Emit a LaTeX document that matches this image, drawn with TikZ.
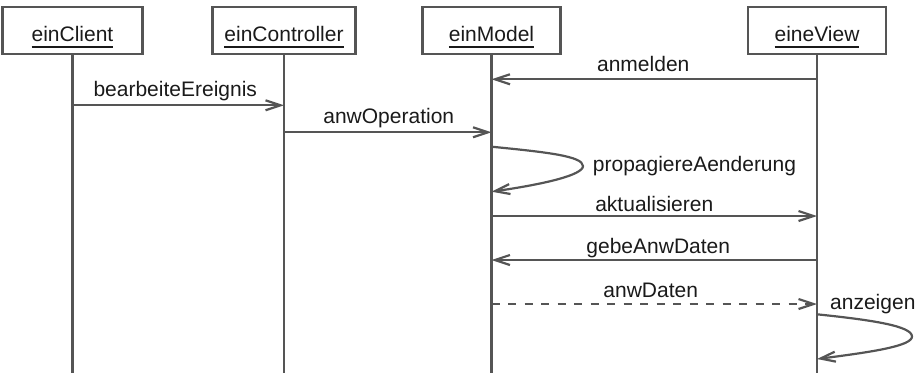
\documentclass[tikz,border=0pt]{standalone}
\usepackage{fontspec}
\setmainfont{Liberation Sans}
\usetikzlibrary{arrows.meta}
\definecolor{linegray}{HTML}{555555}
\definecolor{textgray}{HTML}{1A1A1A}
% underlined object name
\newcommand{\objname}[1]{\vtop{\hbox{#1}\kern4.2pt\hrule height 1.4pt}}
\tikzset{
  objbox/.style={draw=linegray, line width=2.2pt, minimum height=47pt, inner sep=0pt},
  objlabel/.style={anchor=base, inner sep=0pt, text=textgray, font=\fontsize{21}{25}\selectfont},
  lifeline/.style={draw=linegray, line width=2.2pt},
  msg/.style={draw=linegray, line width=2.2pt, -{Straight Barb[length=15pt,width=10pt,line width=2.2pt]}},
  reply/.style={msg, dash pattern=on 8pt off 8.5pt},
  msglabel/.style={anchor=base, inner sep=0pt, text=textgray, font=\fontsize{21}{25}\selectfont},
}
\begin{document}
\begin{tikzpicture}[x=1pt,y=-1pt]
\useasboundingbox (0,0) rectangle (917,373);

% objects
\node[objbox, minimum width=140pt] (client) at (72.5,30.5) {};
\node[objbox, minimum width=143pt] (controller) at (284,30.5) {};
\node[objbox, minimum width=138pt] (model) at (491.5,30.5) {};
\node[objbox, minimum width=138pt] (view) at (817,30.5) {};
\node[objlabel] (clientname) at (72.5,41.7) {\objname{einClient}};
\node[objlabel] (controllername) at (284,41.7) {\objname{einController}};
\node[objlabel] (modelname) at (491.5,41.7) {\objname{einModel}};
\node[objlabel] (viewname) at (817,41.7) {\objname{eineView}};

% lifelines
\coordinate (clientend) at (72.5,373);
\coordinate (controllerend) at (284,373);
\coordinate (modelend) at (491.5,373);
\coordinate (viewend) at (817,373);
\draw[lifeline] (client.south) -- (clientend);
\draw[lifeline] (controller.south) -- (controllerend);
\draw[lifeline] (model.south) -- (modelend);
\draw[lifeline] (view.south) -- (viewend);

% message rows
\coordinate (m1) at (0,79.3);
\coordinate (m2) at (0,105.3);
\coordinate (m3) at (0,132.3);
\coordinate (m5) at (0,216);
\coordinate (m6) at (0,260);
\coordinate (m7) at (0,304);

\draw[msg] (view |- m1) -- node[msglabel, yshift=7.6pt, xshift=-11pt] (l1) {anmelden} (model |- m1);
\draw[msg] (client |- m2) -- node[msglabel, yshift=9pt, xshift=-3pt] (l2) {bearbeiteEreignis} (controller |- m2);
\draw[msg] (controller |- m3) -- node[msglabel, yshift=9pt, xshift=1pt] (l3) {anwOperation} (model |- m3);
\draw[msg] (model |- m5) -- node[msglabel, yshift=4.3pt, xshift=0pt] (l5) {aktualisieren} (view |- m5);
\draw[msg] (view |- m6) -- node[msglabel, yshift=6.7pt, xshift=4pt] (l6) {gebeAnwDaten} (model |- m6);
\draw[reply] (model |- m7) -- node[msglabel, yshift=6.7pt, xshift=-3.5pt] (l7) {anwDaten} (view |- m7);

% self calls
\coordinate (s1a) at (491.5,146.7);
\coordinate (s1b) at (491.5,191.7);
\draw[msg] (s1a) .. controls (545,152) and (583,156) .. (583,166)
                 .. controls (583,175) and (545,184) .. (s1b);
\node[msglabel, anchor=base west] (l4) at (592.7,171.7) {propagiereAenderung};

\coordinate (s2a) at (817,314.3);
\coordinate (s2b) at (817,359);
\draw[msg] (s2a) .. controls (872,320) and (912,326) .. (912,336.5)
                 .. controls (912,346) and (872,352) .. (s2b);
\node[msglabel, anchor=base west] (l8) at (830,309.3) {anzeigen};
\end{tikzpicture}
\end{document}
